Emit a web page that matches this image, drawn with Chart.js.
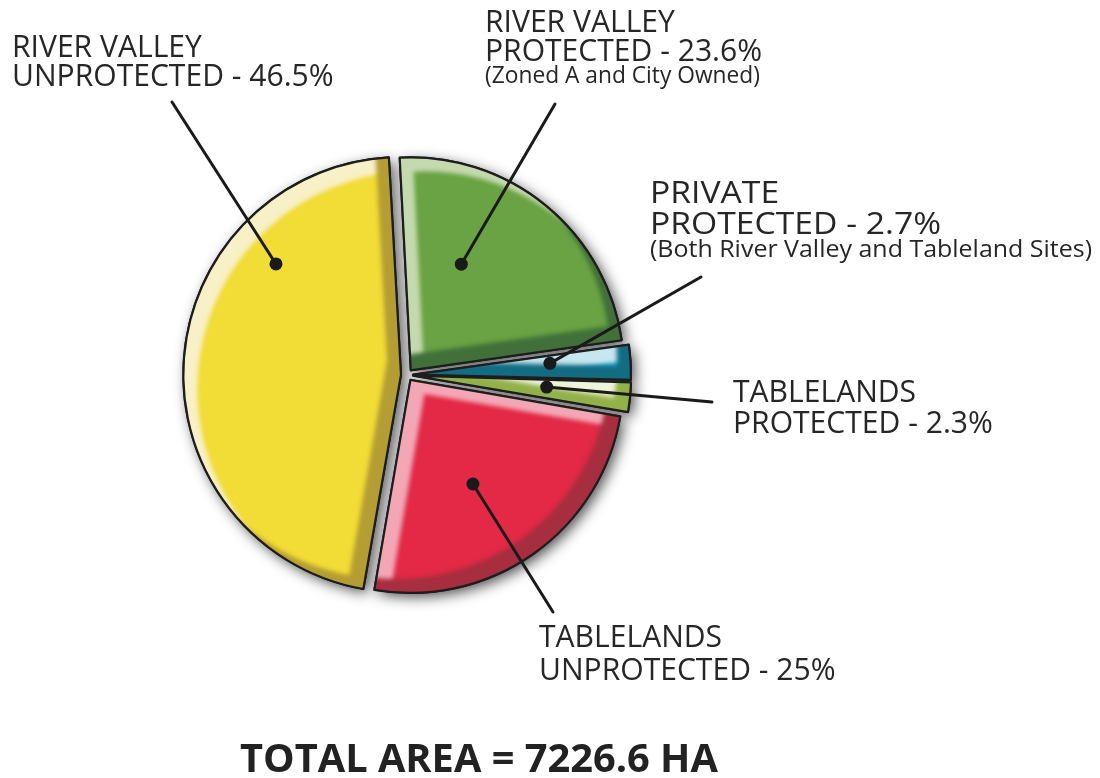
<!DOCTYPE html>
<html>
<head>
<meta charset="utf-8">
<script src="https://cdn.jsdelivr.net/npm/chart.js@4.4.1/dist/chart.umd.min.js"></script>
<style>
  html, body { margin: 0; padding: 0; background: #ffffff; }
  canvas { display: block; }
</style>
</head>
<body>
<canvas id="chart" width="1100" height="778"></canvas>
<script>
// ---------- data ----------
const categories = [
  'River Valley Protected',
  'Private Protected',
  'Tablelands Protected',
  'Tablelands Unprotected',
  'River Valley Unprotected'
];
const shares = [23.6, 2.7, 2.3, 25, 46.5];
const labelLines = [
  ['RIVER VALLEY', 'PROTECTED - 23.6%'],
  ['PRIVATE', 'PROTECTED - 2.7%'],
  ['TABLELANDS', 'PROTECTED - 2.3%'],
  ['TABLELANDS', 'UNPROTECTED - 25%'],
  ['RIVER VALLEY', 'UNPROTECTED - 46.5%']
];
const labelNotes = ['(Zoned A and City Owned)', '(Both River Valley and Tableland Sites)', '', '', ''];
const totalText = 'TOTAL AREA = 7226.6 HA';

// ---------- styles ----------
const baseColors  = ['#69a343', '#1a9fcb', '#d6e3a6', '#e32946', '#f2dc36'];
const lightColors = ['#c4d9ae', '#c6e6f0', '#eef4d9', '#f3a7b4', '#f8f0c6'];
const darkColors  = ['#41703a', '#126c82', '#93b149', '#a72e3e', '#b49d33'];
const outline = '#1d1d1d';
const ink = '#262626';

// ---------- layout (label placement) ----------
const labelX = [485, 650, 733, 539, 12];
const labelBaselines = [[32, 61], [203, 234], [402, 433], [647, 680], [57, 86]];
const noteBaselines = [83, 257, 0, 0, 0];
const labelStretch = [1, 1.12, 1, 1, 1];
const leaderFrom = [[555, 104], [701, 277], [712, 402], [553, 612], [172, 102]];
const dotAnchor = [ {t: 0.335, f: 0.552}, {t: 0.35, f: 0.645}, {t: 0.4, f: 0.63}, {t: 0.547, f: 0.57}, {t: 0.728, f: 0.784} ];
const bevel = 14;

function slicePath(ctx, el, dx, dy) {
  const p = el.getProps(['x', 'y', 'startAngle', 'endAngle', 'outerRadius', 'circumference'], true);
  const off = (el.options.offset || 0) / 4;
  const half = (p.startAngle + p.endAngle) / 2;
  const fix = 1 - Math.sin(Math.min(Math.PI, p.circumference || 0));
  const ro = off * fix;
  const R = p.outerRadius + ro;
  const alpha = p.endAngle - p.startAngle;
  const beta = Math.max(0.001, alpha * R - ro / Math.PI) / R;
  const ao = (alpha - beta) / 2;
  const cx = p.x + Math.cos(half) * off + dx;
  const cy = p.y + Math.sin(half) * off + dy;
  ctx.moveTo(cx, cy);
  ctx.arc(cx, cy, R, p.startAngle + ao, p.endAngle - ao);
  ctx.closePath();
}

function pointInSlice(el, t, f) {
  const p = el.getProps(['x', 'y', 'startAngle', 'endAngle', 'outerRadius'], true);
  const off = (el.options.offset || 0) / 4;
  const half = (p.startAngle + p.endAngle) / 2;
  const ang = p.startAngle + t * (p.endAngle - p.startAngle);
  const r = f * p.outerRadius;
  return [p.x + Math.cos(half) * off + Math.cos(ang) * r, p.y + Math.sin(half) * off + Math.sin(ang) * r];
}

function fitSize(ctx, text, weight, family, target) {
  ctx.font = weight + ' 100px ' + family;
  return 100 * target / ctx.measureText(text).width;
}

const decorPlugin = {
  id: 'decor',
  beforeDatasetsDraw(chart) {
    const ctx = chart.ctx;
    const arcs = chart.getDatasetMeta(0).data;
    ctx.save();
    ctx.filter = 'blur(7px)';
    ctx.fillStyle = 'rgba(25,25,25,0.78)';
    arcs.forEach(el => { ctx.beginPath(); slicePath(ctx, el, 4, 4); ctx.fill(); });
    ctx.restore();
  },
  afterDatasetsDraw(chart) {
    const ctx = chart.ctx;
    const W = chart.width, H = chart.height;
    const arcs = chart.getDatasetMeta(0).data;
    arcs.forEach((el, i) => {
      ctx.save();
      ctx.beginPath(); slicePath(ctx, el, 0, 0); ctx.clip();
      ctx.filter = 'blur(2px)';
      ctx.beginPath(); ctx.rect(-100, -100, W + 200, H + 200); slicePath(ctx, el, bevel, bevel);
      ctx.fillStyle = lightColors[i]; ctx.fill('evenodd');
      ctx.beginPath(); ctx.rect(-100, -100, W + 200, H + 200); slicePath(ctx, el, -bevel, -bevel);
      ctx.fillStyle = darkColors[i]; ctx.fill('evenodd');
      ctx.restore();
      ctx.save();
      ctx.beginPath(); slicePath(ctx, el, 0, 0);
      ctx.lineWidth = 2.2; ctx.strokeStyle = outline; ctx.lineJoin = 'round';
      ctx.stroke();
      ctx.restore();
    });
  },
  afterDraw(chart) {
    const ctx = chart.ctx;
    const arcs = chart.getDatasetMeta(0).data;
    const family = '"Open Sans", "DejaVu Sans", sans-serif';
    const mainSize = fitSize(ctx, 'PROTECTED - 2.3%', '400', family, 260);
    const noteSize = fitSize(ctx, labelNotes[0], '400', family, 275);
    ctx.save();
    // leaders and dots
    arcs.forEach((el, i) => {
      const [dx, dy] = pointInSlice(el, dotAnchor[i].t, dotAnchor[i].f);
      ctx.beginPath();
      ctx.moveTo(leaderFrom[i][0], leaderFrom[i][1]);
      ctx.lineTo(dx, dy);
      ctx.lineWidth = 3; ctx.strokeStyle = '#1a1a1a'; ctx.lineCap = 'round';
      ctx.stroke();
      ctx.beginPath(); ctx.arc(dx, dy, 6.5, 0, Math.PI * 2);
      ctx.fillStyle = '#1a1a1a'; ctx.fill();
    });
    // labels
    ctx.fillStyle = ink;
    ctx.textBaseline = 'alphabetic';
    ctx.textAlign = 'left';
    labelLines.forEach((lines, i) => {
      lines.forEach((txt, j) => {
        ctx.save();
        ctx.translate(labelX[i], labelBaselines[i][j]);
        ctx.scale(labelStretch[i], 1);
        ctx.font = '400 ' + mainSize + 'px ' + family;
        ctx.fillText(txt, 0, 0);
        ctx.restore();
      });
      if (labelNotes[i]) {
        ctx.save();
        ctx.font = '400 ' + noteSize + 'px ' + family;
        const w = ctx.measureText(labelNotes[i]).width;
        const target = i === 1 ? 442 : 275;
        ctx.translate(labelX[i], noteBaselines[i]);
        ctx.scale(target / w, 1);
        ctx.fillText(labelNotes[i], 0, 0);
        ctx.restore();
      }
    });
    // total
    const titleSize = fitSize(ctx, totalText, '700', family, 478);
    ctx.font = '700 ' + titleSize + 'px ' + family;
    ctx.fillStyle = '#222222';
    ctx.fillText(totalText, 240, 772);
    ctx.restore();
  }
};

new Chart(document.getElementById('chart'), {
  type: 'pie',
  data: {
    labels: categories,
    datasets: [{
      data: shares,
      backgroundColor: baseColors,
      borderColor: outline,
      borderWidth: 2,
      offset: 24,
      hoverOffset: 0
    }]
  },
  options: {
    responsive: false,
    animation: false,
    events: [],
    rotation: -3,
    radius: 213,
    layout: { padding: { left: 0, right: 286, top: 0, bottom: 28 } },
    plugins: {
      legend: { display: false },
      tooltip: { enabled: false },
      title: { display: false }
    }
  },
  plugins: [decorPlugin]
});
</script>
</body>
</html>
